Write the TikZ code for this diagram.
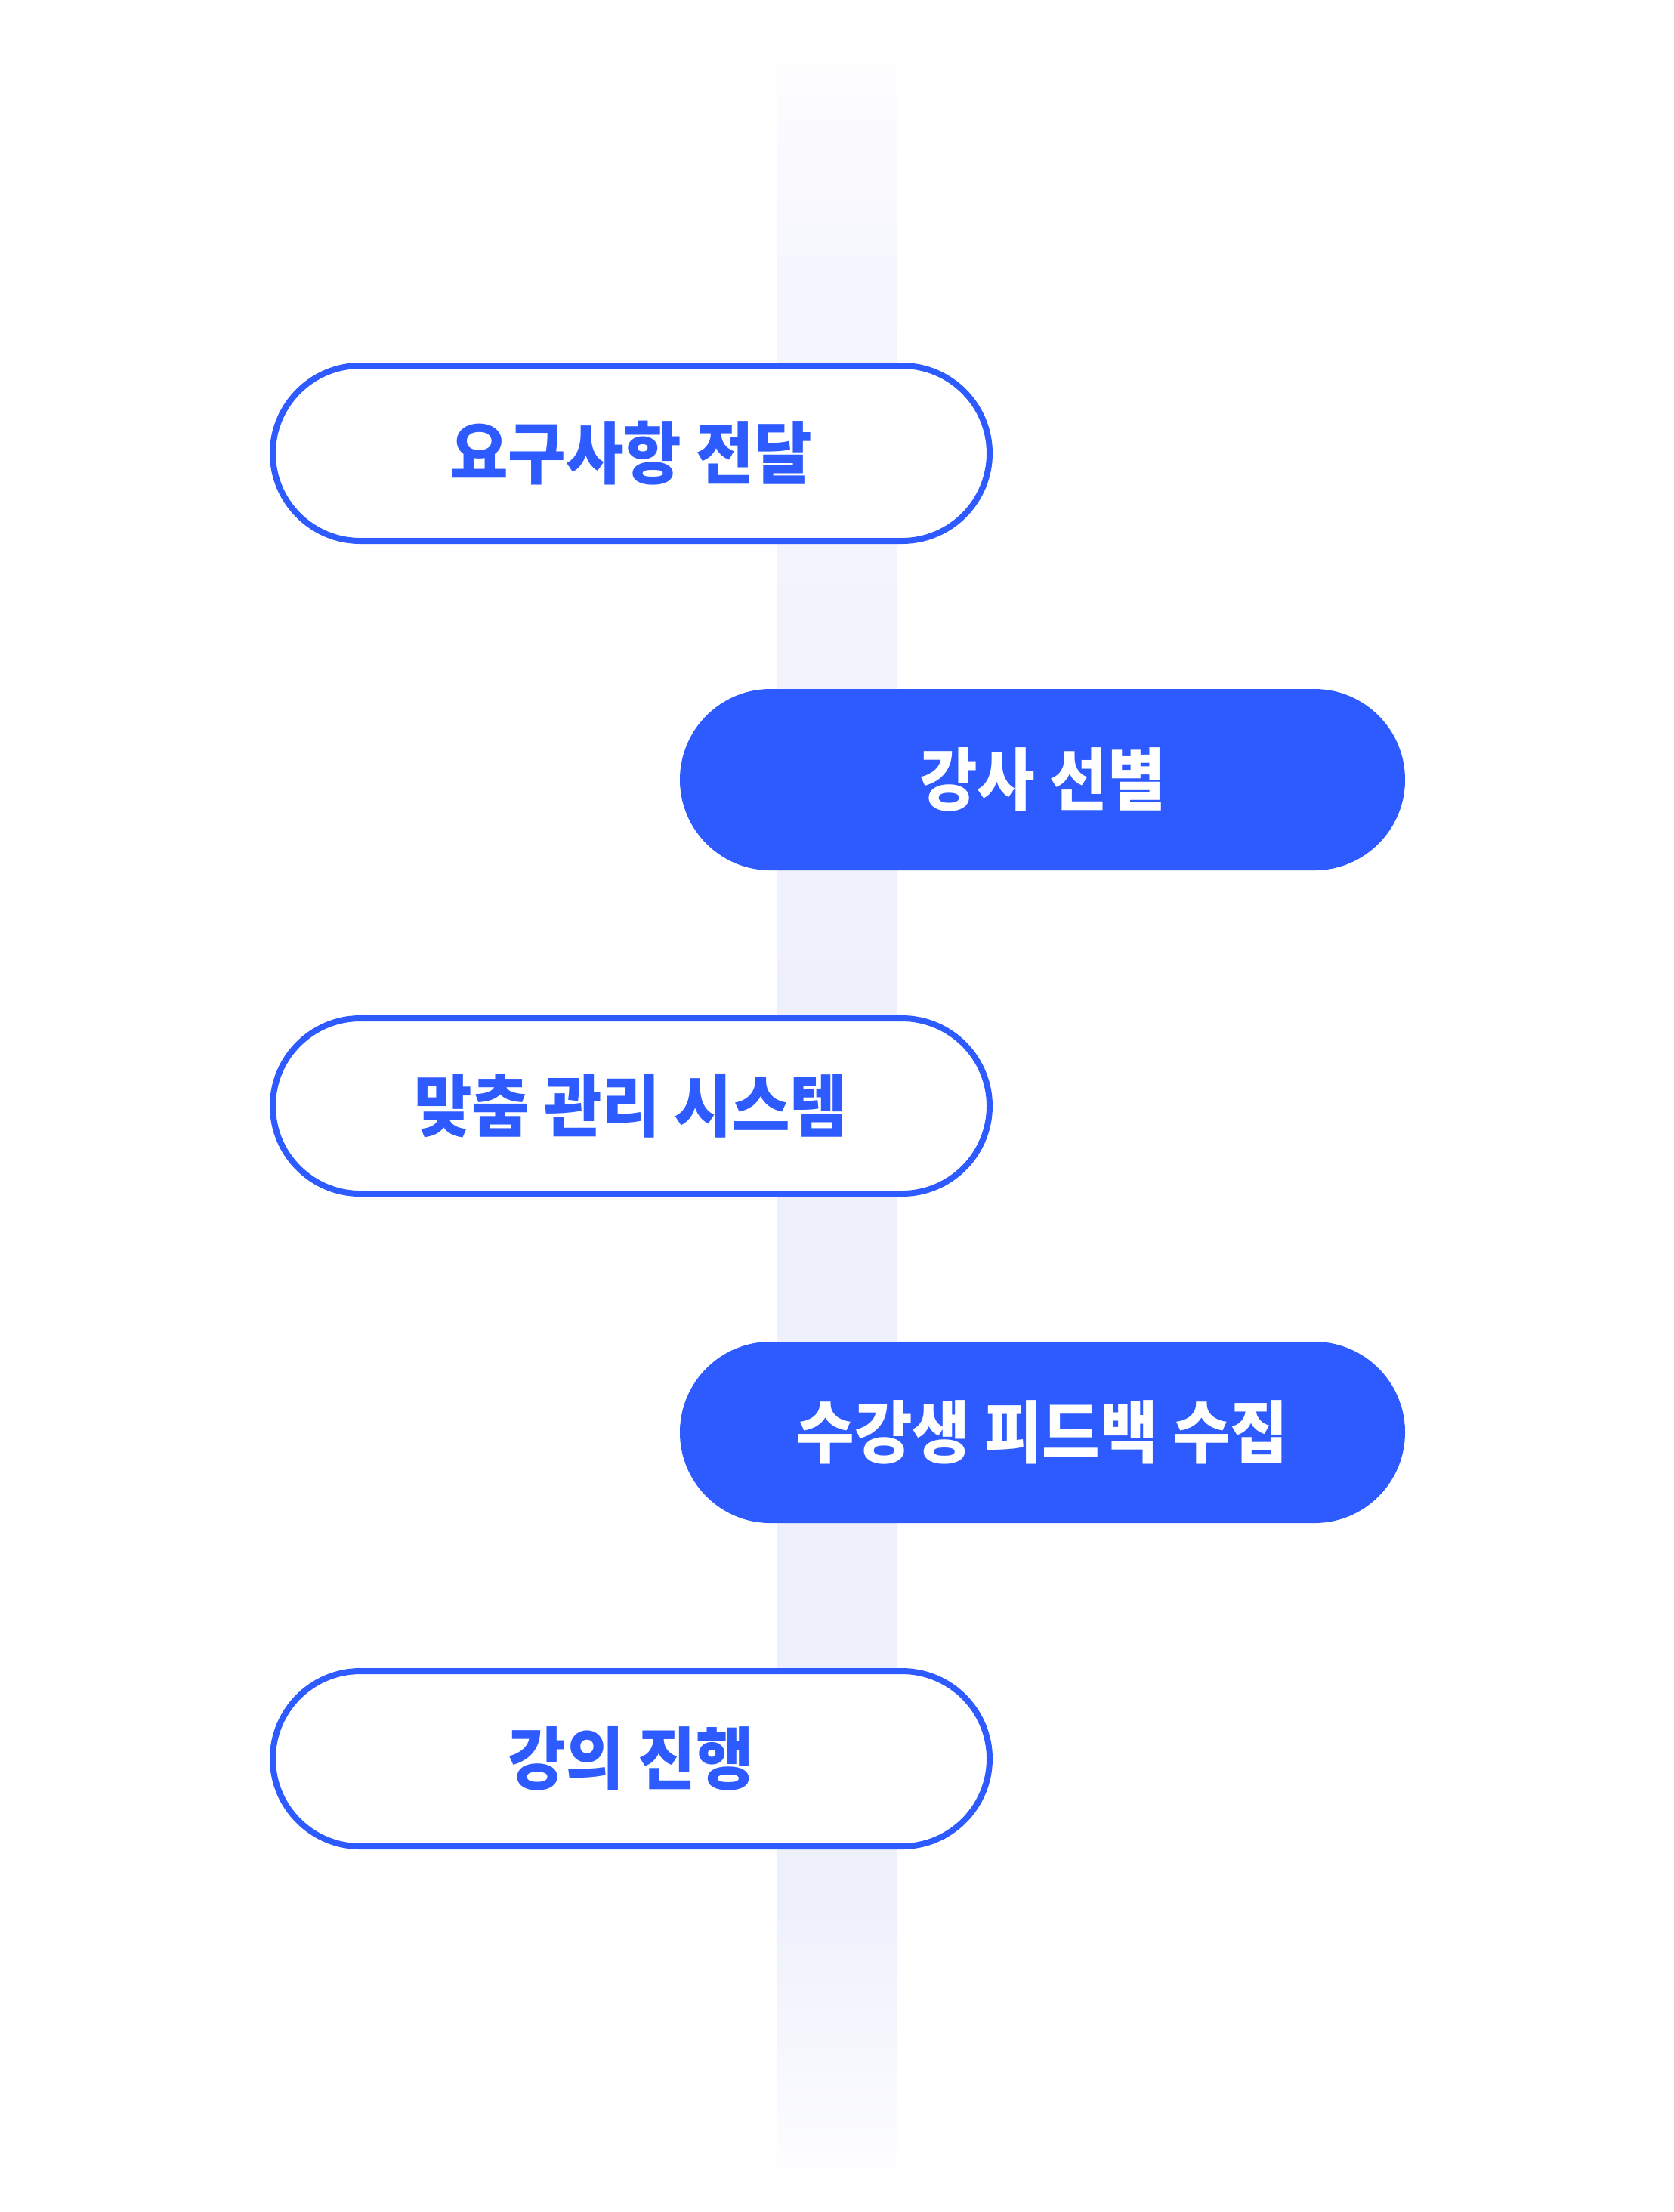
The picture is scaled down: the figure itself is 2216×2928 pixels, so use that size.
\documentclass[tikz,border=0pt]{standalone}
\usepackage{fontspec}
\newfontfamily\kr{Noto Sans CJK KR}[FakeStretch=0.925]
\definecolor{brand}{HTML}{2E5BFF}
\definecolor{bandc}{HTML}{EEF0FC}
\definecolor{bandl}{HTML}{F6F6FE}
\pgfdeclareverticalshading{bandshade}{100bp}{color(0bp)=(white); color(25bp)=(white); color(31.54bp)=(bandc); color(52.12bp)=(bandc); color(69.56bp)=(bandl); color(75bp)=(white); color(100bp)=(white)}
\tikzset{
  labelfont/.style={font=\kr\bfseries\fontsize{22.5pt}{22.5pt}\selectfont},
  outlinebox/.style={labelfont, draw=brand, line width=2pt, fill=white, rounded corners=29pt,
    minimum width=237.25pt, minimum height=58pt, inner sep=0pt, text=brand},
  filledbox/.style={labelfont, fill=brand, rounded corners=30pt,
    minimum width=240pt, minimum height=60pt, inner sep=0pt, text=white},
}
\begin{document}
\begin{tikzpicture}[x=0.25pt,y=-0.25pt]
\useasboundingbox (0,0) rectangle (2216,2928);
\shade[shading=bandshade] (1028,38) rectangle (1188,2905);
\node[outlinebox] (s1) at (835.5,600) {요구사항 전달};
\node[filledbox] (s2) at (1380,1032) {강사 선별};
\node[outlinebox] (s3) at (835.5,1464) {맞춤 관리 시스템};
\node[filledbox] (s4) at (1380,1896) {수강생 피드백 수집};
\node[outlinebox] (s5) at (835.5,2328) {강의 진행};
\end{tikzpicture}
\end{document}
